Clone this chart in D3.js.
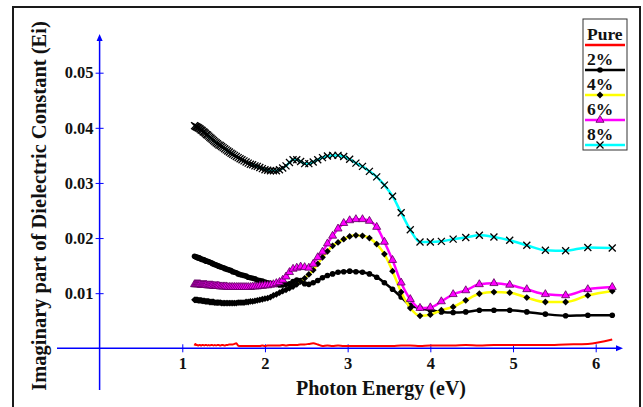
<!DOCTYPE html>
<html>
<head>
<meta charset="utf-8">
<script src="https://cdn.jsdelivr.net/npm/d3@7"></script>
<style>
  body { margin: 0; background: #fff; }
  svg { display: block; }
  text { font-family: "Liberation Serif", "Times New Roman", serif; font-weight: bold; fill: #111; }
</style>
</head>
<body>
<script>
// measurement grid (nm), converted to photon energy below
var lambdaNm = [200,210,220,230,240,250,260,270,280,290,
  300,310,320,330,340,350,360,370,380,390,
  400,410,420,430,440,450,460,470,480,490,
  500,510,520,530,540,550,560,570,580,590,
  600,610,620,630,640,650,660,670,680,690,
  700,710,720,730,740,750,760,770,780,790,
  800,810,820,830,840,850,860,870,880,890,
  900,910,920,930,940,950,960,970,980,990,
  1000,1010,1020,1030,1040,1050,1060,1070,1080];

var pure = [0.0016,0.0008,0.0007,0.0006,0.0006,0.0006,0.0006,0.0005,0.0006,0.0005,
  0.0005,0.0005,0.0004,0.0005,0.0005,0.0004,0.0004,0.0004,0.0004,0.0004,
  0.0004,0.0004,0.0004,0.0005,0.0004,0.0005,0.0004,0.0007,0.0009,0.0008,
  0.0007,0.0007,0.0006,0.0006,0.0006,0.0005,0.0006,0.0005,0.0005,0.0005,
  0.0005,0.0005,0.0004,0.0005,0.0004,0.0004,0.0004,0.0004,0.0004,0.0004,
  0.0004,0.0004,0.0004,0.0004,0.0005,0.0009,0.0008,0.0007,0.0007,0.0007,
  0.0006,0.0006,0.0005,0.0006,0.0006,0.0005,0.0006,0.0006,0.0005,0.0006,
  0.0005,0.0006,0.0006,0.0005,0.0006,0.0005,0.0006,0.0006,0.0005,0.0006,
  0.0006,0.0005,0.0006,0.0006,0.0005,0.0006,0.0006,0.0008,0.0005];

var p2 = [0.0060,0.0060,0.0059,0.0062,0.0066,0.0069,0.0069,0.0069,0.0066,0.0065,
  0.0066,0.0069,0.0073,0.0078,0.0093,0.0107,0.0119,0.0129,0.0135,0.0138,
  0.0139,0.0140,0.0139,0.0138,0.0135,0.0132,0.0128,0.0123,0.0119,0.0116,
  0.0117,0.0123,0.0124,0.0121,0.0117,0.0116,0.0115,0.0115,0.0116,0.0117,
  0.0118,0.0119,0.0120,0.0122,0.0123,0.0124,0.0126,0.0127,0.0128,0.0129,
  0.0131,0.0132,0.0133,0.0134,0.0135,0.0137,0.0138,0.0139,0.0141,0.0142,
  0.0143,0.0144,0.0145,0.0146,0.0147,0.0148,0.0149,0.0150,0.0151,0.0152,
  0.0153,0.0154,0.0155,0.0156,0.0157,0.0158,0.0158,0.0159,0.0160,0.0161,
  0.0161,0.0162,0.0163,0.0164,0.0164,0.0165,0.0165,0.0166,0.0167];

var p4 = [0.0104,0.0096,0.0084,0.0084,0.0092,0.0101,0.0102,0.0099,0.0087,0.0075,
  0.0069,0.0061,0.0059,0.0073,0.0102,0.0140,0.0171,0.0189,0.0200,0.0204,
  0.0205,0.0203,0.0198,0.0192,0.0186,0.0176,0.0165,0.0153,0.0142,0.0134,
  0.0127,0.0121,0.0116,0.0112,0.0109,0.0106,0.0104,0.0101,0.0098,0.0096,
  0.0093,0.0091,0.0090,0.0089,0.0088,0.0087,0.0086,0.0085,0.0085,0.0084,
  0.0084,0.0083,0.0083,0.0083,0.0083,0.0082,0.0082,0.0082,0.0082,0.0082,
  0.0082,0.0082,0.0082,0.0082,0.0082,0.0083,0.0083,0.0083,0.0083,0.0083,
  0.0084,0.0084,0.0084,0.0084,0.0085,0.0085,0.0085,0.0085,0.0086,0.0086,
  0.0086,0.0087,0.0087,0.0087,0.0087,0.0088,0.0088,0.0088,0.0088];

var p6 = [0.0111,0.0107,0.0096,0.0098,0.0107,0.0115,0.0118,0.0116,0.0105,0.0098,
  0.0085,0.0074,0.0073,0.0089,0.0119,0.0160,0.0193,0.0220,0.0231,0.0234,
  0.0234,0.0232,0.0227,0.0217,0.0204,0.0190,0.0175,0.0165,0.0153,0.0146,
  0.0147,0.0148,0.0146,0.0144,0.0138,0.0130,0.0124,0.0120,0.0118,0.0116,
  0.0115,0.0114,0.0114,0.0113,0.0113,0.0112,0.0112,0.0112,0.0111,0.0111,
  0.0111,0.0111,0.0111,0.0111,0.0111,0.0111,0.0111,0.0111,0.0111,0.0111,
  0.0111,0.0112,0.0112,0.0112,0.0112,0.0112,0.0113,0.0113,0.0113,0.0113,
  0.0113,0.0114,0.0114,0.0114,0.0114,0.0114,0.0115,0.0115,0.0115,0.0115,
  0.0115,0.0115,0.0116,0.0116,0.0116,0.0116,0.0116,0.0116,0.0116];

var p8 = [0.0182,0.0183,0.0177,0.0178,0.0187,0.0196,0.0202,0.0205,0.0201,0.0198,
  0.0194,0.0193,0.0193,0.0215,0.0246,0.0276,0.0296,0.0311,0.0321,0.0330,
  0.0336,0.0343,0.0348,0.0350,0.0350,0.0349,0.0346,0.0342,0.0338,0.0335,
  0.0335,0.0339,0.0342,0.0342,0.0337,0.0331,0.0327,0.0324,0.0322,0.0322,
  0.0322,0.0323,0.0324,0.0326,0.0328,0.0330,0.0331,0.0333,0.0334,0.0336,
  0.0338,0.0340,0.0342,0.0344,0.0346,0.0348,0.0350,0.0352,0.0354,0.0356,
  0.0358,0.0360,0.0362,0.0364,0.0366,0.0368,0.0369,0.0371,0.0373,0.0375,
  0.0377,0.0379,0.0381,0.0383,0.0385,0.0387,0.0388,0.0390,0.0392,0.0393,
  0.0395,0.0396,0.0398,0.0399,0.0400,0.0401,0.0402,0.0403,0.0404];

var seriesNames = ["Pure", "2%", "4%", "6%", "8%"];
var seriesColors = ["#ff0000", "#000000", "#ffff00", "#ff00ff", "#00ffff"];
var seriesMarkers = ["none", "circle", "diamond", "triangle", "times"];
var xTicks = [1, 2, 3, 4, 5, 6];
var yTicks = [0.01, 0.02, 0.03, 0.04, 0.05];

var width = 643, height = 407, blue = "#0000ff";

var svg = d3.select("body").append("svg")
  .attr("width", width)
  .attr("height", height);

// outer frame
svg.append("rect")
  .attr("x", 13).attr("y", 7)
  .attr("width", 627).attr("height", 430)
  .attr("fill", "none")
  .attr("stroke", "#1a1a1a")
  .attr("stroke-width", 2);

var x = d3.scaleLinear().domain([0, 6]).range([99.6, 595.7]);
var y = d3.scaleLinear().domain([0, 0.05]).range([348.3, 72.7]);

// axis lines with arrows
svg.append("line")
  .attr("x1", x(0)).attr("x2", x(0))
  .attr("y1", 390).attr("y2", 40)
  .attr("stroke", blue).attr("stroke-width", 1.5);
svg.append("path")
  .attr("d", "M" + (x(0) - 3) + ",41L" + x(0) + ",34L" + (x(0) + 3) + ",41Z")
  .attr("fill", blue);
svg.append("line")
  .attr("x1", 57).attr("x2", 617)
  .attr("y1", y(0)).attr("y2", y(0))
  .attr("stroke", blue).attr("stroke-width", 1.5);
svg.append("path")
  .attr("d", "M616," + (y(0) - 3) + "L623," + y(0) + "L616," + (y(0) + 3) + "Z")
  .attr("fill", blue);

var gy = svg.append("g")
  .attr("transform", "translate(" + x(0) + ",0)")
  .call(d3.axisLeft(y).tickValues(yTicks).tickFormat(d3.format(".2f")).tickSize(4).tickPadding(2));
gy.select(".domain").remove();
gy.selectAll(".tick line").attr("x1", 4).attr("stroke", blue);
gy.selectAll(".tick text").style("font-size", "16.5px");

var gx = svg.append("g")
  .attr("transform", "translate(0," + y(0) + ")")
  .call(d3.axisBottom(x).tickValues(xTicks).tickFormat(d3.format("d")).tickSize(4).tickPadding(5));
gx.select(".domain").remove();
gx.selectAll(".tick line").attr("y1", -4).attr("stroke", blue);
gx.selectAll(".tick text").style("font-size", "16.5px");

// titles
svg.append("text")
  .attr("transform", "translate(46,206) rotate(-90)")
  .attr("text-anchor", "middle")
  .style("font-size", "20.5px")
  .text("Imaginary part of Dielectric Constant (Ei)");

svg.append("text")
  .attr("x", 381).attr("y", 395)
  .attr("text-anchor", "middle")
  .style("font-size", "20px")
  .text("Photon Energy (eV)");

// series
var allValues = [pure, p2, p4, p6, p8];
var series = allValues.map(function(vals, i) {
  var pts = lambdaNm.map(function(l, j) { return { e: 1240 / l, v: vals[j] }; });
  pts.sort(function(a, b) { return a.e - b.e; });
  return { name: seriesNames[i], color: seriesColors[i], marker: seriesMarkers[i], points: pts };
});

var line = d3.line()
  .x(function(d) { return x(d.e); })
  .y(function(d) { return y(d.v); })
  .curve(d3.curveMonotoneX);

var timesPath = "M-3.5,-3.5L3.5,3.5M-3.5,3.5L3.5,-3.5";
var diamondPath = "M0,-3.4L3.4,0L0,3.4L-3.4,0Z";

function drawMarker(g, type) {
  if (type === "circle") {
    g.append("circle").attr("r", 2.8).attr("fill", "#000");
  } else if (type === "diamond") {
    g.append("path").attr("d", diamondPath).attr("fill", "#000");
  } else if (type === "triangle") {
    g.append("path").attr("d", d3.symbol(d3.symbolTriangle, 28)())
      .attr("fill", "#ff00ff").attr("stroke", "#5a005a").attr("stroke-width", 0.8);
  } else if (type === "times") {
    g.append("path").attr("d", timesPath).attr("fill", "none")
      .attr("stroke", "#000").attr("stroke-width", 1.3);
  }
}

series.forEach(function(s) {
  svg.append("path")
    .datum(s.points)
    .attr("d", line)
    .attr("fill", "none")
    .attr("stroke", s.color)
    .attr("stroke-width", s.marker === "none" ? 2 : 2.5);

  if (s.marker !== "none") {
    svg.append("g").selectAll("g")
      .data(s.points)
      .enter().append("g")
      .attr("transform", function(d) { return "translate(" + x(d.e) + "," + y(d.v) + ")"; })
      .each(function() { drawMarker(d3.select(this), s.marker); });
  }
});

// legend
var legend = svg.append("g");
legend.append("rect")
  .attr("x", 583).attr("y", 19)
  .attr("width", 44).attr("height", 131)
  .attr("fill", "#fff")
  .attr("stroke", "#333").attr("stroke-width", 1);

series.forEach(function(s, i) {
  var base = 40 + i * 25;
  legend.append("text")
    .attr("x", 587).attr("y", base)
    .style("font-size", "17.5px")
    .text(s.name);
  legend.append("line")
    .attr("x1", 585).attr("x2", 625)
    .attr("y1", base + 5).attr("y2", base + 5)
    .attr("stroke", s.color).attr("stroke-width", 2.5);
  var m = legend.append("g").attr("transform", "translate(600," + (base + 5) + ")");
  drawMarker(m, s.marker);
});
</script>
</body>
</html>
